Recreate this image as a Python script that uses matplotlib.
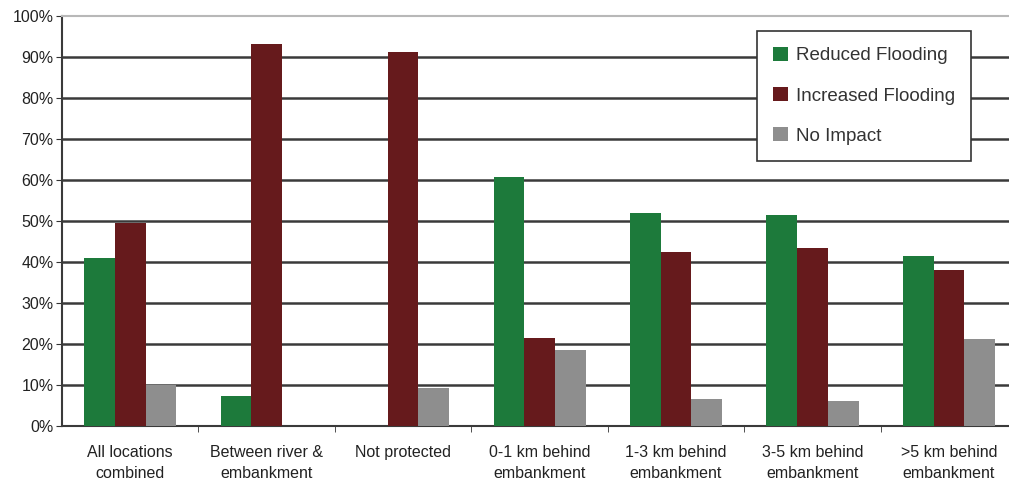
import numpy as np
import matplotlib.pyplot as plt
from matplotlib.ticker import FixedLocator, PercentFormatter

plt.rcParams['font.family'] = ['Liberation Sans', 'DejaVu Sans']

categories = ['All locations\ncombined', 'Between river &\nembankment', 'Not protected',
              '0-1 km behind\nembankment', '1-3 km behind\nembankment',
              '3-5 km behind\nembankment', '>5 km behind\nembankment']
reduced = [41.0, 7.3, 0.0, 60.8, 51.9, 51.5, 41.5]
increased = [49.5, 93.2, 91.3, 21.4, 42.5, 43.3, 38.0]
no_impact = [10.0, 0.0, 9.3, 18.5, 6.5, 6.1, 21.2]

series = [('Reduced Flooding', reduced, '#1d7a3b'),
          ('Increased Flooding', increased, '#661a1c'),
          ('No Impact', no_impact, '#8e8e8e')]

fig = plt.figure(figsize=(10.09, 4.82), dpi=100)
ax = fig.add_axes([62 / 1009, 56 / 482, (1009 - 62) / 1009, 410 / 482])

x = np.arange(len(categories))
w = 0.225
for k, (name, vals, col) in enumerate(series):
    ax.bar(x + (k - 1) * w, vals, w, color=col, label=name, zorder=3)

ax.set_ylim(0, 100)
ax.set_xlim(-0.5, 6.44)
ax.set_yticks(np.arange(0, 101, 10))
ax.yaxis.set_major_formatter(PercentFormatter(decimals=0))
for y in range(10, 100, 10):
    ax.axhline(y, color='#3a3a3a', lw=1.8, zorder=1)

ax.set_xticks(x)
ax.set_xticklabels(categories, fontsize=11.5, color='#222222', linespacing=1.45)
ax.xaxis.set_minor_locator(FixedLocator(np.arange(0.5, 6.5, 1)))
ax.tick_params(axis='x', which='major', length=0, pad=14)
ax.tick_params(axis='x', which='minor', length=4, color='#333333')
ax.tick_params(axis='y', length=4, color='#333333', labelsize=11.5, labelcolor='#222222', pad=2)

for s in ['left', 'bottom']:
    ax.spines[s].set_color('#3a3a3a')
    ax.spines[s].set_linewidth(1.5)
ax.spines['top'].set_color('#b8b8b8')
ax.spines['top'].set_linewidth(1.5)
ax.spines['right'].set_visible(False)

leg = ax.legend(loc='upper left', bbox_to_anchor=(0.734, 0.964), fontsize=13.5,
                frameon=True, fancybox=False, edgecolor='#333333',
                handlelength=0.8, handleheight=0.8, handletextpad=0.4,
                labelspacing=1.2, borderpad=0.85, borderaxespad=0)
leg.get_frame().set_linewidth(1.2)
leg.get_frame().set_alpha(1)
for t in leg.get_texts():
    t.set_color('#333333')

fig.savefig('out.png', dpi=100)
